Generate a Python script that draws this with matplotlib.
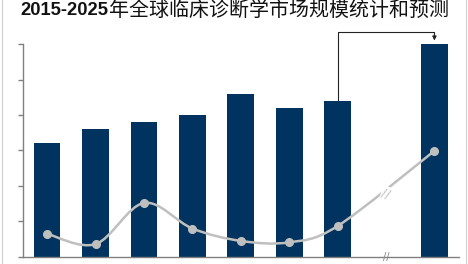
"""Global clinical diagnostics market size 2015-2025 (bars) with growth curve."""

import matplotlib

matplotlib.use("Agg")
import matplotlib.pyplot as plt
from matplotlib.path import Path
from matplotlib.patches import PathPatch, Rectangle
from matplotlib.transforms import offset_copy

plt.rcParams["font.family"] = ["Noto Sans CJK SC", "DejaVu Sans"]

TITLE_YEARS = "2015-2025"
TITLE_REST = "年全球临床诊断学市场规模统计和预测"

# bar slots: 2015..2021 then a break slot, then 2025
bar_pos = [0, 1, 2, 3, 4, 5, 6, 8]
market_size = [32, 36, 38, 40, 46, 42, 44, 60]
growth = [6.5, 3.6, 15.2, 8.0, 4.5, 4.1, 8.7, 29.9]
y_ticks = [0, 10, 20, 30, 40, 50, 60]

BAR = "#00335F"
LINE = "#BFBFBF"
AXIS = "#808080"


def smooth_path(xs, ys):
    """Catmull-Rom style Bezier path through the points (like Excel smoothed lines)."""
    pts = list(zip(xs, ys))
    verts = [pts[0]]
    codes = [Path.MOVETO]
    for i in range(len(pts) - 1):
        p0 = pts[i - 1] if i > 0 else pts[i]
        p1 = pts[i]
        p2 = pts[i + 1]
        p3 = pts[i + 2] if i + 2 < len(pts) else pts[i + 1]
        c1 = (p1[0] + (p2[0] - p0[0]) / 6, p1[1] + (p2[1] - p0[1]) / 6)
        c2 = (p2[0] - (p3[0] - p1[0]) / 6, p2[1] - (p3[1] - p1[1]) / 6)
        verts += [c1, c2, p2]
        codes += [Path.CURVE4] * 3
    return Path(verts, codes)


def main():
    fig = plt.figure(figsize=(4.68, 2.64), dpi=100)
    ax = fig.add_axes([0.049, 0.027, 0.931, 0.806])

    ax.bar(bar_pos, market_size, width=0.55, color=BAR, zorder=2)

    ax.add_patch(PathPatch(smooth_path(bar_pos, growth), fc="none", ec=LINE, lw=1.8, zorder=3))
    ax.plot(bar_pos, growth, "o", color=LINE, ms=5.5, zorder=4)

    # break mark on the curve and on the x axis
    ax.text(7.0, 17.9, "//", rotation=-20, color=LINE, fontsize=9, ha="center", va="center",
            family="DejaVu Sans", zorder=5,
            bbox=dict(boxstyle="square,pad=0.05", fc="white", ec="none"))
    ax.text(7.0, 0, "//", color=AXIS, fontsize=7, ha="center", va="center",
            family="DejaVu Sans", zorder=5)

    # connector from the last actual bar to the forecast bar
    top = 63.4
    ax.plot([6, 6, 8, 8], [44.2, top, top, 62.5], color="#222222", lw=0.8,
            clip_on=False, zorder=5)
    ax.annotate("", xy=(8, 61.0), xytext=(8, 62.8), annotation_clip=False,
                arrowprops=dict(arrowstyle="-|>", color="#222222", lw=0.8,
                                mutation_scale=6, shrinkA=0, shrinkB=0))

    ax.set_xlim(-0.5, 8.5)
    ax.set_ylim(0, 60)
    ax.set_yticks(y_ticks)
    ax.set_yticklabels([])
    ax.set_xticks([])
    for s in ("top", "right"):
        ax.spines[s].set_visible(False)
    for s in ("left", "bottom"):
        ax.spines[s].set_color(AXIS)
        ax.spines[s].set_linewidth(1.0)
    ax.tick_params(axis="y", direction="out", length=3.5, color=AXIS, width=1.0)

    # title: bold latin years followed by the chinese part
    years = fig.text(20.5 / 468, 0.960, TITLE_YEARS, ha="left", va="center", fontsize=13.2,
                     fontweight="bold", family="Liberation Sans", color="#111111")
    fig.canvas.draw()
    w = years.get_window_extent().width
    fig.text(20.5 / 468, 0.960, TITLE_REST, ha="left", va="center", fontsize=14.4,
             fontweight="medium", color="#111111",
             transform=offset_copy(fig.transFigure, fig=fig, x=w + 0.5, y=0, units="dots"))

    # light frame on the sides of the figure
    fig.patches.append(Rectangle((0.004, -0.02), 0.992, 1.1, transform=fig.transFigure,
                                 fill=False, ec="#D0D0D0", lw=0.8))

    fig.savefig("out.png", dpi=100)


if __name__ == "__main__":
    main()
